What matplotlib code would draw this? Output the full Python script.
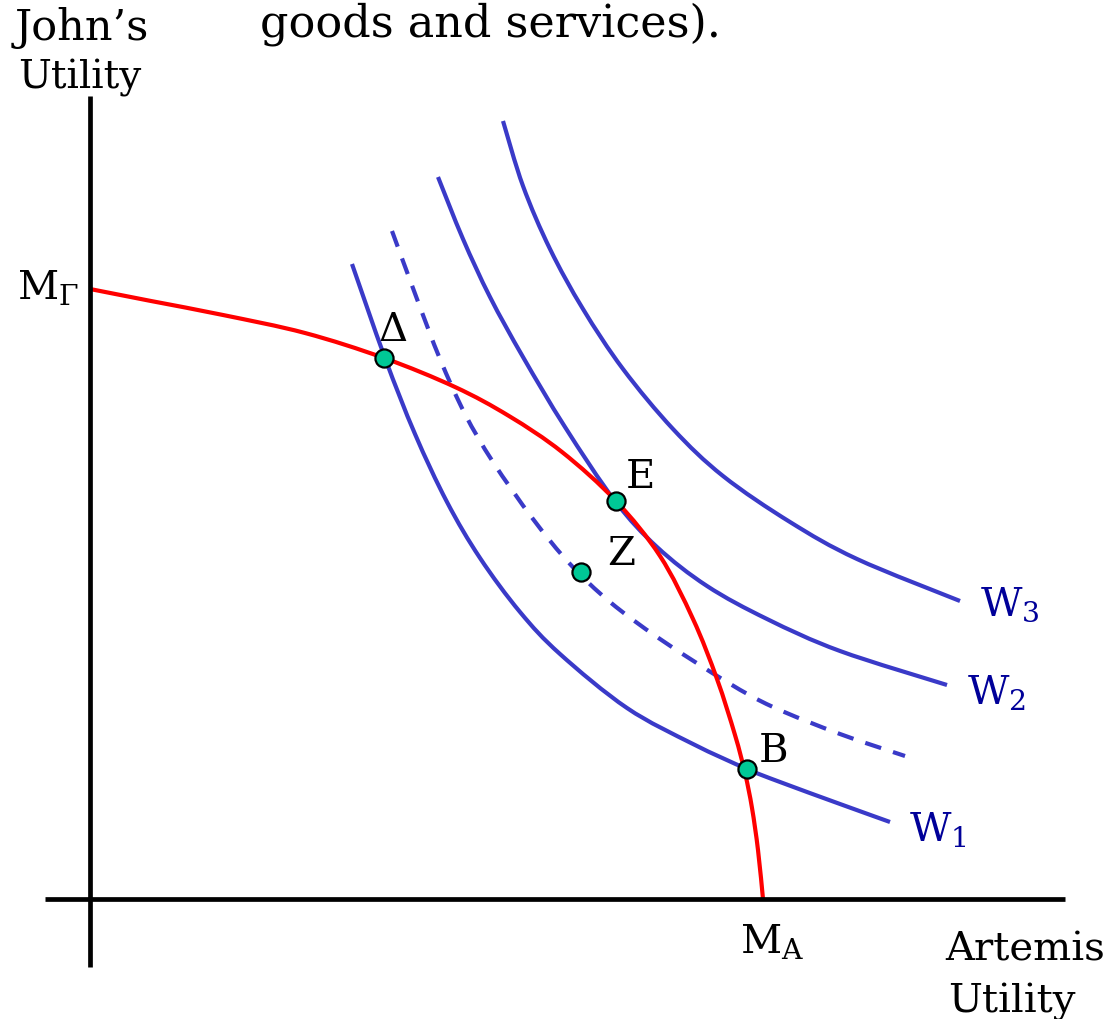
import matplotlib
matplotlib.use("Agg")
import matplotlib.pyplot as plt
from matplotlib.path import Path
from matplotlib.patches import PathPatch

# utility possibility frontier (red)
frontier_x = [0, 0.61, 1.33, 2.15, 2.94, 3.65, 4.19, 4.72, 5.26, 5.70, 6.03, 6.27, 6.45, 6.55, 6.62, 6.68, 6.73]
frontier_y = [6.10, 5.98, 5.84, 5.66, 5.41, 5.12, 4.83, 4.47, 3.98, 3.43, 2.80, 2.20, 1.64, 1.26, 0.91, 0.49, 0.00]

# social indifference curves
w1_x = [2.62, 2.95, 3.25, 3.57, 3.90, 4.30, 4.70, 5.37, 6.03, 6.57, 6.90, 7.50, 8.00]
w1_y = [6.35, 5.41, 4.65, 3.97, 3.41, 2.87, 2.45, 1.91, 1.55, 1.30, 1.17, 0.95, 0.77]
w2_x = [3.48, 3.73, 4.00, 4.33, 4.75, 5.25, 5.67, 6.17, 6.77, 7.50, 8.57]
w2_y = [7.22, 6.60, 6.02, 5.42, 4.72, 3.98, 3.52, 3.13, 2.80, 2.48, 2.14]
w3_x = [4.13, 4.33, 4.60, 4.93, 5.33, 5.83, 6.33, 7.00, 7.67, 8.70]
w3_y = [7.78, 7.13, 6.50, 5.90, 5.30, 4.70, 4.23, 3.77, 3.40, 2.98]
dash_x = [3.02, 3.27, 3.50, 3.75, 4.03, 4.43, 4.80, 5.20, 5.70, 6.37, 6.83, 7.50, 8.15]
dash_y = [6.68, 6.00, 5.40, 4.85, 4.37, 3.80, 3.35, 2.97, 2.60, 2.17, 1.92, 1.65, 1.43]

# labelled points
pt_names = ["Δ", "E", "Z", "B"]
pt_x = [2.94, 5.26, 4.91, 6.57]
pt_y = [5.41, 3.98, 3.27, 1.30]


def smooth(xs, ys):
    # catmull-rom through the read points, drawn as bezier segments
    pts = list(zip(xs, ys))
    verts = [pts[0]]
    codes = [Path.MOVETO]
    for i in range(len(pts) - 1):
        p0 = pts[i - 1] if i > 0 else pts[i]
        p1 = pts[i]
        p2 = pts[i + 1]
        p3 = pts[i + 2] if i + 2 < len(pts) else p2
        c1 = (p1[0] + (p2[0] - p0[0]) / 6, p1[1] + (p2[1] - p0[1]) / 6)
        c2 = (p2[0] - (p3[0] - p1[0]) / 6, p2[1] - (p3[1] - p1[1]) / 6)
        verts += [c1, c2, p2]
        codes += [Path.CURVE4] * 3
    return Path(verts, codes)


plt.rcParams['font.family'] = ['DejaVu Serif']
plt.rcParams['mathtext.fontset'] = 'dejavuserif'

fig = plt.figure(figsize=(11.17, 10.2), dpi=100)
ax = fig.add_axes([0, 0, 1, 1])
ax.set_xlim(-0.9, 10.27)
ax.set_ylim(-1.2, 9.0)
ax.axis("off")

blue = "#3a3ac8"
lblue = "#000099"
lw = 3.0

# axes
ax.plot([0, 0], [-0.68, 8.03], color="black", lw=3.4, solid_capstyle="butt")
ax.plot([-0.45, 9.75], [0, 0], color="black", lw=3.4, solid_capstyle="butt")

for xs, ys in [(w1_x, w1_y), (w2_x, w2_y), (w3_x, w3_y)]:
    ax.add_patch(PathPatch(smooth(xs, ys), fill=False, edgecolor=blue, lw=lw))
ax.add_patch(PathPatch(smooth(dash_x, dash_y), fill=False, edgecolor=blue, lw=lw,
                       linestyle=(0, (4, 3))))
ax.add_patch(PathPatch(smooth(frontier_x, frontier_y), fill=False, edgecolor="red", lw=lw))

ax.scatter(pt_x, pt_y, s=170, color="#00c896", edgecolor="black", linewidth=1.6, zorder=5)

fs = 29
ax.text(pt_x[0] + 0.09, pt_y[0] + 0.1, pt_names[0], fontsize=fs, ha="center", va="bottom")
ax.text(pt_x[1] + 0.10, pt_y[1] + 0.06, pt_names[1], fontsize=fs, ha="left", va="bottom")
ax.text(pt_x[2] + 0.26, pt_y[2] + 0.0, pt_names[2], fontsize=fs, ha="left", va="bottom")
ax.text(pt_x[3] + 0.12, pt_y[3] + 0.0, pt_names[3], fontsize=fs, ha="left", va="bottom")

ax.text(-0.73, 6.12, r"M$_{\Gamma}$", fontsize=fs, ha="left", va="center")
ax.text(6.5, -0.42, r"M$_{\mathrm{A}}$", fontsize=fs, ha="left", va="center")
ax.text(8.90, 2.95, "W$_3$", fontsize=fs, ha="left", va="center", color=lblue)
ax.text(8.77, 2.07, "W$_2$", fontsize=fs, ha="left", va="center", color=lblue)
ax.text(8.19, 0.70, "W$_1$", fontsize=fs, ha="left", va="center", color=lblue)

ax.text(-0.75, 8.72, "John’s", fontsize=31, ha="left", va="center")
ax.text(-0.72, 8.22, "Utility", fontsize=28, ha="left", va="center")
ax.text(1.70, 8.76, "goods and services).", fontsize=32, ha="left", va="center")
ax.text(8.55, -0.50, "Artemis", fontsize=fs, ha="left", va="center")
ax.text(8.58, -1.02, "Utility", fontsize=fs, ha="left", va="center")

fig.savefig("out.png", dpi=100)
